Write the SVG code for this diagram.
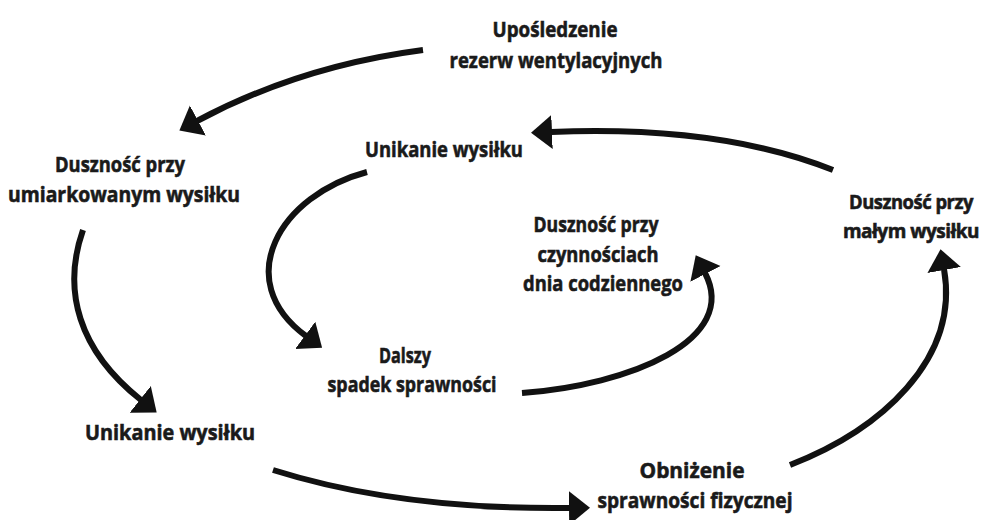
<svg xmlns="http://www.w3.org/2000/svg" width="984" height="520" viewBox="0 0 984 520">
<style>
text{font-family:"Open Sans","Liberation Sans",sans-serif;font-weight:bold;font-size:22px;fill:#1a1a1a;stroke:#1a1a1a;stroke-width:0.6;text-anchor:middle}
.r{font-size:19.5px;letter-spacing:-0.5px}
.c{fill:none;stroke:#111;stroke-width:6;stroke-linecap:butt}
</style>
<defs>
<marker id="ah" markerUnits="userSpaceOnUse" markerWidth="24" markerHeight="36" refX="1" refY="17" orient="auto">
<path d="M0,0 L21,17 L0,34 z" fill="#111"/>
</marker>
</defs>
<rect width="984" height="520" fill="#fff"/>
<g id="connectors">
<path class="c" d="M423,50 Q300,66 197,121" marker-end="url(#ah)"/>
<path class="c" d="M833,170 Q720,125 551,132" marker-end="url(#ah)"/>
<path class="c" d="M367,172 C280,195 230,280 306,336" marker-end="url(#ah)"/>
<path class="c" d="M522,393 C630,385 740,340 705,273" marker-end="url(#ah)"/>
<path class="c" d="M83,230 C62,290 78,350 141,400" marker-end="url(#ah)"/>
<path class="c" d="M273,470 Q400,510 570,508" marker-end="url(#ah)"/>
<path class="c" d="M790,465 C880,430 960,360 944,269" marker-end="url(#ah)"/>
</g>
<g id="n1"><text x="555" y="37" textLength="125" lengthAdjust="spacingAndGlyphs">Upośledzenie</text><text x="556" y="68" textLength="213" lengthAdjust="spacingAndGlyphs">rezerw wentylacyjnych</text></g>
<g id="n2"><text x="120" y="172" textLength="130" lengthAdjust="spacingAndGlyphs">Duszność przy</text><text x="124" y="202" textLength="232" lengthAdjust="spacingAndGlyphs">umiarkowanym wysiłku</text></g>
<g id="n3"><text x="444" y="157" textLength="158" lengthAdjust="spacingAndGlyphs">Unikanie wysiłku</text></g>
<g id="n4"><text x="596" y="232" textLength="125" lengthAdjust="spacingAndGlyphs">Duszność przy</text><text x="598" y="262" textLength="121" lengthAdjust="spacingAndGlyphs">czynnościach</text><text x="603" y="291" textLength="160" lengthAdjust="spacingAndGlyphs">dnia codziennego</text></g>
<g id="n5"><text class="r" x="911" y="209" textLength="124" lengthAdjust="spacingAndGlyphs">Duszność przy</text><text class="r" x="911" y="238" textLength="136" lengthAdjust="spacingAndGlyphs">małym wysiłku</text></g>
<g id="n6"><text x="405" y="363" textLength="52" lengthAdjust="spacingAndGlyphs">Dalszy</text><text x="412" y="392" textLength="169" lengthAdjust="spacingAndGlyphs">spadek sprawności</text></g>
<g id="n7"><text x="170" y="440" textLength="170" lengthAdjust="spacingAndGlyphs">Unikanie wysiłku</text></g>
<g id="n8"><text x="692" y="478" textLength="105" lengthAdjust="spacingAndGlyphs">Obniżenie</text><text x="695" y="508" textLength="195" lengthAdjust="spacingAndGlyphs">sprawności fizycznej</text></g>
</svg>
